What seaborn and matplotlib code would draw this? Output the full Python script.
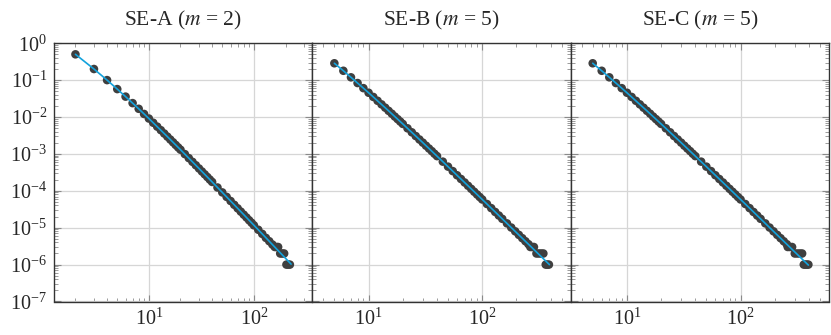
import numpy as np
import pandas as pd
import seaborn as sns
import matplotlib
matplotlib.use("Agg")
import matplotlib.pyplot as plt
from matplotlib.ticker import LogLocator, NullFormatter

# degree distribution, m = 2 (bulk)
deg_m2 = [2, 3, 4, 5, 6, 7, 8, 9, 10, 11, 12, 13, 14, 15, 16, 17, 18, 19, 20,
          22, 24, 26, 28, 30, 32, 34, 36, 38, 40, 45, 50, 55, 60, 65, 70, 75,
          80, 85, 90, 95, 100, 110, 120, 130, 140, 150]
pk_m2 = [0.5, 0.2, 0.1, 0.0571, 0.0357, 0.0238, 0.0167, 0.0121, 0.00909,
         0.00699, 0.00549, 0.0044, 0.00357, 0.00294, 0.00245, 0.00206, 0.00175,
         0.0015, 0.0013, 0.000988, 0.000769, 0.00061, 0.000493, 0.000403,
         0.000334, 0.00028, 0.000237, 0.000202, 0.000174, 0.000123, 9.05e-5,
         6.84e-5, 5.29e-5, 4.17e-5, 3.35e-5, 2.73e-5, 2.26e-5, 1.89e-5, 1.59e-5,
         1.36e-5, 1.16e-5, 8.8e-6, 6.8e-6, 5.3e-6, 4.3e-6, 3.5e-6]

# degree distribution, m = 5 (bulk)
deg_m5 = [5, 6, 7, 8, 9, 10, 11, 12, 13, 14, 15, 16, 17, 18, 19, 20, 22, 24, 26,
          28, 30, 32, 34, 36, 38, 40, 45, 50, 55, 60, 65, 70, 75, 80, 85, 90, 95,
          100, 110, 120, 130, 140, 150, 165, 180, 195, 210, 225, 240, 255]
pk_m5 = [0.286, 0.179, 0.119, 0.0833, 0.0606, 0.0455, 0.035, 0.0275, 0.022,
         0.0179, 0.0147, 0.0123, 0.0103, 0.00877, 0.00752, 0.00649, 0.00494,
         0.00385, 0.00305, 0.00246, 0.00202, 0.00167, 0.0014, 0.00119, 0.00101,
         0.000871, 0.000617, 0.000452, 0.000342, 0.000264, 0.000209, 0.000168,
         0.000137, 0.000113, 9.43e-5, 7.96e-5, 6.78e-5, 5.82e-5, 4.39e-5,
         3.39e-5, 2.67e-5, 2.14e-5, 1.74e-5, 1.31e-5, 1.01e-5, 7.97e-6, 6.39e-6,
         5.2e-6, 4.29e-6, 3.58e-6]

# tails (few nodes per degree)
tail_a_k = [158, 164, 170, 178, 186, 194, 204, 212, 220]
tail_a_p = [3e-6, 3e-6, 3e-6, 2e-6, 2e-6, 2e-6, 1e-6, 1e-6, 1e-6]
tail_b_k = [265, 275, 285, 300, 315, 330, 345, 362, 374, 386]
tail_b_p = [3e-6, 3e-6, 3e-6, 2e-6, 2e-6, 2e-6, 2e-6, 1e-6, 1e-6, 1e-6]
tail_c_k = [260, 272, 284, 300, 316, 332, 348, 360, 372, 384, 395]
tail_c_p = [3e-6, 3e-6, 3e-6, 2e-6, 2e-6, 2e-6, 2e-6, 1e-6, 1e-6, 1e-6, 1e-6]

# theoretical curves
fit_a_k = [2, 3, 4, 5, 6, 8, 10, 15, 20, 30, 50, 80, 120, 170, 226]
fit_a_p = [0.5, 0.2, 0.1, 0.0571, 0.0357, 0.0167, 0.00909, 0.00294, 0.0013,
           0.000403, 9.05e-5, 2.26e-5, 6.8e-6, 2.4e-6, 1.03e-6]
fit_m5_k = [5, 6, 7, 8, 10, 15, 20, 30, 50, 80, 120, 180, 270]
fit_m5_p = [0.286, 0.179, 0.119, 0.0833, 0.0455, 0.0147, 0.00649, 0.00202,
            0.000452, 0.000113, 3.39e-5, 1.01e-5, 3.01e-6]
fit_b_end = (390, 1.0e-6)
fit_c_end = (395, 9.7e-7)

titles = ["SE-A ($m$ = 2)", "SE-B ($m$ = 5)", "SE-C ($m$ = 5)"]
x_ticks = [10, 100]
y_ticks = [1e-7, 1e-6, 1e-5, 1e-4, 1e-3, 1e-2, 1e-1, 1]

sns.set_style("ticks")
plt.rcParams["font.family"] = ["Liberation Serif", "DejaVu Serif"]
plt.rcParams["mathtext.fontset"] = "stix"

panels = [
    (deg_m2 + tail_a_k, pk_m2 + tail_a_p, fit_a_k, fit_a_p, (1.25, 360)),
    (deg_m5 + tail_b_k, pk_m5 + tail_b_p, fit_m5_k + [fit_b_end[0]],
     fit_m5_p + [fit_b_end[1]], (3.2, 600)),
    (deg_m5 + tail_c_k, pk_m5 + tail_c_p, fit_m5_k + [fit_c_end[0]],
     fit_m5_p + [fit_c_end[1]], (3.2, 600)),
]

fig, axes = plt.subplots(1, 3, figsize=(8.31, 3.35), dpi=100, sharey=True)
fig.subplots_adjust(left=0.065, right=0.9976, top=0.871, bottom=0.1, wspace=0)

for ax, (k, p, fk, fp, xl), title in zip(axes, panels, titles):
    pts = pd.DataFrame({"k": k, "p": p})
    fit = pd.DataFrame({"k": fk, "p": fp})
    ax.grid(True, which="major", color="#d6d6d6", lw=0.9, zorder=0)
    sns.scatterplot(data=pts, x="k", y="p", ax=ax, color="#3f3f3f", s=38,
                    edgecolor="none", zorder=3)
    sns.lineplot(data=fit, x="k", y="p", ax=ax, color="#12a2dc", lw=1.2,
                 zorder=4, estimator=None, sort=False)
    ax.set_xscale("log")
    ax.set_yscale("log")
    ax.set_xticks(x_ticks)
    ax.set_yticks(y_ticks)
    ax.set_xlim(*xl)
    ax.set_ylim(1e-7, 1)
    ax.set_xlabel("")
    ax.set_ylabel("")
    ax.set_title(title, fontsize=15.5, pad=13)
    for axis in (ax.xaxis, ax.yaxis):
        axis.set_minor_locator(LogLocator(base=10, subs=np.arange(2, 10), numticks=100))
        axis.set_minor_formatter(NullFormatter())
    ax.tick_params(which="both", direction="in", top=True, right=True,
                   color="#8a8a8a", labelsize=14.5)
    ax.tick_params(which="major", length=5, width=0.8, pad=5)
    ax.tick_params(which="minor", length=3, width=0.6)
    for s in ax.spines.values():
        s.set_color("#333333")
        s.set_linewidth(1.0)

for ax in axes[1:]:
    ax.tick_params(labelleft=False)

fig.savefig("out.png", dpi=100)
